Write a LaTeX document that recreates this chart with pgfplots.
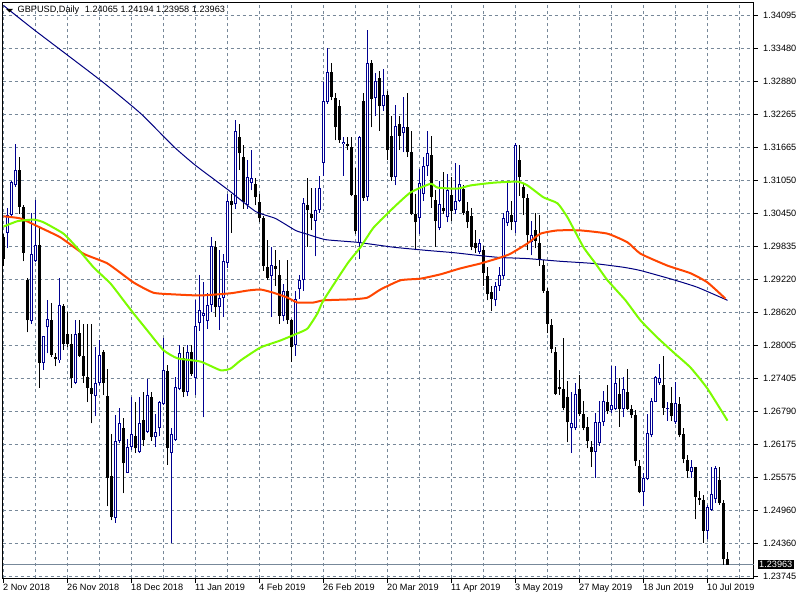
\documentclass[border=0pt]{standalone}
\usepackage{fontspec}
\setmainfont{Liberation Sans}
\usepackage{pgfplots}
\usepackage{pgfplotstable}
\pgfplotsset{compat=1.18}
\definecolor{gridc}{HTML}{778899}
\definecolor{bullc}{HTML}{000090}
\definecolor{maNavy}{HTML}{000080}
\definecolor{maRed}{HTML}{FF4500}
\definecolor{maGreen}{HTML}{7CFC00}

\pgfplotstableread{
i O H L C
1 1.3009 1.3055 1.2980 1.3041
2 1.3041 1.3105 1.3037 1.3103
3 1.3096 1.3173 1.3094 1.3125
7 1.2845 1.3046 1.2841 1.2969
8 1.2956 1.3070 1.2954 1.2987
10 1.2768 1.2819 1.2756 1.2819
11 1.2834 1.2884 1.2786 1.2849
14 1.2773 1.2926 1.2769 1.2875
18 1.2732 1.2847 1.2729 1.2821
23 1.2707 1.2797 1.2670 1.2731
24 1.2731 1.2810 1.2727 1.2784
28 1.2483 1.2672 1.2474 1.2625
29 1.2624 1.2686 1.2620 1.2657
31 1.2566 1.2629 1.2565 1.2613
32 1.2614 1.2705 1.2607 1.2638
34 1.2605 1.2705 1.2603 1.2657
36 1.2642 1.2738 1.2640 1.2710
38 1.2631 1.2675 1.2614 1.2642
39 1.2648 1.2699 1.2633 1.2696
40 1.2692 1.2814 1.2690 1.2755
42 1.2602 1.2648 1.2437 1.2637
43 1.2627 1.2742 1.2625 1.2725
44 1.2721 1.2801 1.2718 1.2786
46 1.2714 1.2801 1.2707 1.2788
48 1.2740 1.2884 1.2709 1.2836
49 1.2843 1.2930 1.2828 1.2867
50 1.2856 1.2917 1.2668 1.2860
51 1.2845 1.2897 1.2832 1.2876
52 1.2876 1.3000 1.2862 1.2985
54 1.2871 1.2976 1.2830 1.2889
55 1.2889 1.2970 1.2854 1.2956
56 1.2952 1.3081 1.2943 1.3068
58 1.3061 1.3216 1.3053 1.3197
61 1.3059 1.3142 1.3053 1.3112
62 1.3101 1.3161 1.3087 1.3109
67 1.2928 1.2982 1.2854 1.2950
70 1.2856 1.2915 1.2845 1.2902
73 1.2801 1.2902 1.2782 1.2887
74 1.2904 1.2930 1.2887 1.2922
75 1.2921 1.3072 1.2902 1.3063
78 1.3031 1.3092 1.2965 1.3050
79 1.3050 1.3114 1.3046 1.3092
80 1.3137 1.3286 1.3114 1.3251
81 1.3249 1.3349 1.3247 1.3306
85 1.3173 1.3185 1.3114 1.3177
89 1.2989 1.3188 1.2961 1.3185
91 1.3074 1.3382 1.3068 1.3321
93 1.3258 1.3304 1.3225 1.3288
95 1.3242 1.3310 1.3234 1.3262
98 1.3111 1.3244 1.3096 1.3205
100 1.3192 1.3260 1.3157 1.3203
104 1.3035 1.3127 1.3007 1.3101
105 1.3081 1.3148 1.3068 1.3131
106 1.3131 1.3196 1.3114 1.3155
109 1.3017 1.3105 1.3013 1.3061
111 1.3037 1.3118 1.3028 1.3087
113 1.3050 1.3138 1.3044 1.3068
114 1.3068 1.3133 1.3065 1.3098
119 1.2974 1.2998 1.2970 1.2989
123 1.2884 1.2917 1.2873 1.2911
124 1.2911 1.2945 1.2902 1.2930
125 1.2928 1.3046 1.2924 1.3035
126 1.3026 1.3101 1.3022 1.3048
128 1.3028 1.3175 1.3009 1.3170
132 1.2991 1.3031 1.2967 1.3004
142 1.2648 1.2714 1.2603 1.2657
143 1.2648 1.2732 1.2644 1.2712
148 1.2605 1.2677 1.2557 1.2660
149 1.2620 1.2699 1.2616 1.2660
150 1.2659 1.2716 1.2653 1.2699
152 1.2681 1.2762 1.2677 1.2690
153 1.2684 1.2762 1.2681 1.2732
155 1.2684 1.2742 1.2668 1.2721
160 1.2531 1.2565 1.2504 1.2557
161 1.2555 1.2675 1.2552 1.2640
162 1.2635 1.2703 1.2631 1.2699
163 1.2697 1.2745 1.2696 1.2742
164 1.2731 1.2766 1.2727 1.2740
166 1.2683 1.2696 1.2662 1.2686
168 1.2659 1.2734 1.2655 1.2694
172 1.2568 1.2590 1.2557 1.2576
176 1.2459 1.2506 1.2443 1.2502
177 1.2498 1.2577 1.2496 1.2526
178 1.2517 1.2579 1.2511 1.2574
}\tbull

\pgfplotstableread{
i O H L C
0 1.3000 1.3007 1.2948 1.2961
4 1.3125 1.3149 1.3044 1.3057
5 1.3057 1.3059 1.2956 1.2972
6 1.2922 1.2926 1.2825 1.2847
9 1.2987 1.3018 1.2723 1.2768
12 1.2847 1.2880 1.2779 1.2784
13 1.2780 1.2786 1.2762 1.2775
15 1.2873 1.2878 1.2792 1.2804
16 1.2821 1.2862 1.2797 1.2804
17 1.2804 1.2821 1.2723 1.2740
19 1.2823 1.2847 1.2780 1.2782
20 1.2782 1.2841 1.2732 1.2745
21 1.2742 1.2841 1.2696 1.2723
22 1.2723 1.2841 1.2657 1.2712
25 1.2788 1.2792 1.2709 1.2731
26 1.2707 1.2758 1.2504 1.2557
27 1.2559 1.2637 1.2478 1.2485
30 1.2648 1.2666 1.2528 1.2583
33 1.2633 1.2696 1.2603 1.2611
35 1.2664 1.2714 1.2616 1.2627
37 1.2705 1.2714 1.2625 1.2631
41 1.2753 1.2764 1.2581 1.2611
45 1.2777 1.2797 1.2705 1.2714
47 1.2788 1.2801 1.2745 1.2749
53 1.2983 1.2993 1.2854 1.2871
57 1.3068 1.3081 1.3009 1.3059
59 1.3185 1.3210 1.3124 1.3155
60 1.3149 1.3170 1.3053 1.3065
63 1.3098 1.3109 1.3059 1.3074
64 1.3065 1.3081 1.3028 1.3035
65 1.3035 1.3039 1.2939 1.2948
66 1.2945 1.2996 1.2922 1.2926
68 1.2948 1.2976 1.2911 1.2941
69 1.2930 1.2959 1.2841 1.2856
71 1.2902 1.2958 1.2841 1.2847
72 1.2847 1.2850 1.2771 1.2797
76 1.3059 1.3109 1.2982 1.3050
77 1.3044 1.3092 1.3013 1.3035
82 1.3306 1.3321 1.3253 1.3260
83 1.3258 1.3267 1.3179 1.3203
84 1.3242 1.3253 1.3175 1.3179
86 1.3173 1.3185 1.3161 1.3168
87 1.3166 1.3185 1.3076 1.3079
88 1.3079 1.3129 1.3007 1.3011
90 1.3251 1.3266 1.3068 1.3072
92 1.3321 1.3327 1.3203 1.3256
94 1.3295 1.3308 1.3197 1.3242
96 1.3262 1.3271 1.3142 1.3161
97 1.3188 1.3225 1.3105 1.3111
99 1.3210 1.3225 1.3161 1.3188
101 1.3203 1.3267 1.3148 1.3157
102 1.3157 1.3197 1.3041 1.3044
103 1.3044 1.3081 1.2976 1.3028
107 1.3153 1.3188 1.3055 1.3074
108 1.3070 1.3087 1.2983 1.3030
110 1.3055 1.3120 1.3044 1.3048
112 1.3079 1.3111 1.3031 1.3048
115 1.3090 1.3096 1.3041 1.3046
116 1.3048 1.3065 1.3017 1.3028
117 1.3039 1.3055 1.2976 1.2982
118 1.2989 1.3013 1.2972 1.2980
120 1.2976 1.2985 1.2911 1.2934
121 1.2928 1.2945 1.2884 1.2895
122 1.2900 1.2911 1.2865 1.2887
127 1.3041 1.3068 1.3013 1.3028
129 1.3142 1.3170 1.3077 1.3111
130 1.3094 1.3101 1.3041 1.3072
131 1.3072 1.3081 1.2976 1.3004
133 1.3013 1.3046 1.2980 1.2994
134 1.2989 1.3041 1.2948 1.2958
135 1.2950 1.2958 1.2898 1.2902
136 1.2902 1.2906 1.2823 1.2841
137 1.2839 1.2850 1.2786 1.2795
138 1.2788 1.2797 1.2709 1.2712
139 1.2725 1.2756 1.2709 1.2720
140 1.2720 1.2814 1.2681 1.2686
141 1.2705 1.2736 1.2622 1.2659
144 1.2720 1.2747 1.2670 1.2675
145 1.2675 1.2699 1.2644 1.2649
146 1.2651 1.2668 1.2611 1.2624
147 1.2614 1.2625 1.2577 1.2605
151 1.2697 1.2727 1.2675 1.2679
154 1.2712 1.2740 1.2651 1.2684
156 1.2714 1.2758 1.2681 1.2684
157 1.2684 1.2690 1.2666 1.2672
158 1.2672 1.2681 1.2579 1.2587
159 1.2579 1.2589 1.2528 1.2530
165 1.2727 1.2782 1.2672 1.2686
167 1.2694 1.2725 1.2661 1.2670
169 1.2692 1.2705 1.2631 1.2635
170 1.2637 1.2648 1.2583 1.2592
171 1.2589 1.2598 1.2557 1.2570
173 1.2576 1.2577 1.2480 1.2522
174 1.2520 1.2533 1.2506 1.2515
175 1.2515 1.2524 1.2437 1.2458
179 1.2552 1.2577 1.2507 1.2511
180 1.2511 1.2515 1.2396 1.2406
181 1.24065 1.24194 1.23958 1.23963
}\tbear

\begin{document}
\begin{tikzpicture}
\useasboundingbox (0,0) rectangle (800bp,600bp);
\begin{axis}[
  at={(2.5bp,21.5bp)}, anchor=south west,
  scale only axis, width=751bp, height=576bp,
  xmin=-0.25, xmax=187.5, ymin=1.23708, ymax=1.34335,
  clip=false,
  axis line style={black, line width=1bp},
  scaled ticks=false,
  xtick={0,16,32,48,64,80,96,112,128,144,160,176},
  xticklabels={2 Nov 2018,26 Nov 2018,18 Dec 2018,11 Jan 2019,4 Feb 2019,26 Feb 2019,20 Mar 2019,11 Apr 2019,3 May 2019,27 May 2019,18 Jun 2019,10 Jul 2019},
  minor xtick={8,24,40,56,72,88,104,120,136,152,168,184},
  ytick={1.34095,1.33486,1.32877,1.32269,1.31660,1.31051,1.30442,1.29833,1.29224,1.28616,1.28007,1.27398,1.26789,1.26180,1.25572,1.24963,1.24354,1.23745},
  yticklabels={1.34095,1.33480,1.32880,1.32265,1.31665,1.31050,1.30450,1.29835,1.29220,1.28620,1.28005,1.27405,1.26790,1.26175,1.25575,1.24960,1.24360,1.23745},
  xtick pos=bottom, ytick pos=right, yticklabel pos=right,
  tick align=outside, major tick length=4bp, minor tick length=0pt,
  tick style={black, line width=1bp},
  grid=both,
  major grid style={gridc, dash pattern=on 3bp off 3bp, line width=1bp},
  minor grid style={gridc, dash pattern=on 3bp off 3bp, line width=1bp},
  tick label style={font=\fontsize{9.2}{11}\selectfont, text=black},
  yticklabel style={anchor=west, inner sep=0pt, xshift=5.5bp},
  xticklabel style={anchor=north west, inner sep=0pt, xshift=-0.5bp, yshift=-1bp},
]
% current price line
\addplot[gridc, line width=1bp, forget plot] coordinates {(-0.25,1.23963) (187.5,1.23963)};
% wicks
\addplot[draw=none, mark=none, forget plot, error bars/.cd, y dir=plus, y explicit, error mark=none, error bar style={draw=bullc, line width=1bp, solid}]
  table[x=i, y=L, y error plus expr=\thisrow{H}-\thisrow{L}] {\tbull};
\addplot[draw=none, mark=none, forget plot, error bars/.cd, y dir=plus, y explicit, error mark=none, error bar style={draw=black, line width=1bp, solid}]
  table[x=i, y=L, y error plus expr=\thisrow{H}-\thisrow{L}] {\tbear};
% bodies
\addplot[draw=none, mark=none, forget plot, error bars/.cd, y dir=plus, y explicit, error mark=none, error bar style={draw=black, line width=3bp, solid}]
  table[x=i, y=C, y error plus expr={max(\thisrow{O}-\thisrow{C},0.00018)}] {\tbear};
\addplot[draw=none, mark=none, forget plot, error bars/.cd, y dir=plus, y explicit, error mark=none, error bar style={draw=bullc, line width=3bp, solid}]
  table[x=i, y=O, y error plus expr={max(\thisrow{C}-\thisrow{O},0.00018)}] {\tbull};
\addplot[draw=none, mark=none, forget plot, error bars/.cd, y dir=plus, y explicit, error mark=none, error bar style={draw=white, line width=1bp, solid}]
  table[x=i, y expr=\thisrow{O}+0.000184, y error plus expr={max(\thisrow{C}-\thisrow{O}-0.000368,0)}] {\tbull};
% moving averages
\addplot[maNavy, line width=1bp, mark=none, smooth, tension=0.3] coordinates {
(0,1.3428) (7.5,1.3384) (24.25,1.3290) (34.25,1.3229) (42.5,1.3168) (48,1.3133) (56.3,1.3087) (63,1.3048) (68,1.3035) (73,1.3013) (75.5,1.3007) (80.5,1.2996) (88.5,1.2991) (97.5,1.2982) (106,1.2976) (112.5,1.2972) (118.5,1.2967) (124.25,1.2963) (131,1.2961) (139.25,1.2956) (147.5,1.2952) (155,1.2945) (159.25,1.2939) (167.5,1.2922) (173.5,1.2908) (181,1.2884)};
\addplot[maRed, line width=2bp, mark=none, smooth, tension=0.3] coordinates {
(0,1.3039) (4.25,1.3035) (9.25,1.3018) (14.25,1.3000) (20,1.2970) (26,1.2952) (32.5,1.2917) (37.5,1.2898) (42.5,1.2895) (49.25,1.2893) (56.75,1.2897) (61,1.2902) (64.25,1.2904) (67.5,1.2898) (71,1.2889) (73.5,1.2880) (77.5,1.2880) (80,1.2884) (87.5,1.2886) (91,1.2889) (94.25,1.2904) (99.25,1.2921) (104.25,1.2924) (109.25,1.2932) (114.25,1.2943) (119.25,1.2952) (124.25,1.2963) (126.75,1.2970) (131,1.2989) (134.25,1.3007) (138.5,1.3013) (144.25,1.3013) (151,1.3007) (156,1.2991) (159.25,1.2970) (166,1.2948) (171.75,1.2934) (176,1.2917) (180.5,1.2887)};
\addplot[maGreen, line width=2bp, mark=none, smooth, tension=0.3] coordinates {
(0,1.3020) (3.5,1.3030) (7.5,1.3033) (10,1.3028) (15,1.3007) (18.5,1.2980) (22.5,1.2945) (26.75,1.2915) (30,1.2884) (32.5,1.2860) (36,1.2828) (40,1.2792) (43.5,1.2777) (49.25,1.2771) (54.25,1.2755) (56.75,1.2758) (59.25,1.2773) (64.25,1.2797) (69.25,1.2810) (73.5,1.2823) (76,1.2832) (78.5,1.2860) (80,1.2884) (86,1.2952) (89.25,1.2982) (92.5,1.3018) (97.5,1.3055) (101.75,1.3083) (106.75,1.3099) (108.5,1.3092) (113.5,1.3090) (116.75,1.3096) (122.5,1.3101) (128.5,1.3103) (131,1.3096) (135,1.3074) (138.5,1.3063) (141,1.3037) (145,1.2982) (148,1.2952) (151,1.2921) (155.5,1.2884) (159.25,1.2847) (163.5,1.2815) (167.5,1.2788) (171.75,1.2760) (176,1.2721) (181,1.2662)};
\node[fill=black, text=white, anchor=west, inner xsep=1.5bp, inner ysep=1.5bp, xshift=4bp, font=\fontsize{9.2}{11}\selectfont] at (axis cs:187.5,1.23963) {1.23963};
\end{axis}
\fill (6bp,591bp) -- (13bp,591bp) -- (9.5bp,587.5bp) -- cycle;
\node[anchor=west, inner sep=0pt, font=\fontsize{9.2}{11}\selectfont] at (17.5bp,589.5bp) {GBPUSD,Daily\hspace{3bp} 1.24065 1.24194 1.23958 1.23963};
\end{tikzpicture}
\end{document}
